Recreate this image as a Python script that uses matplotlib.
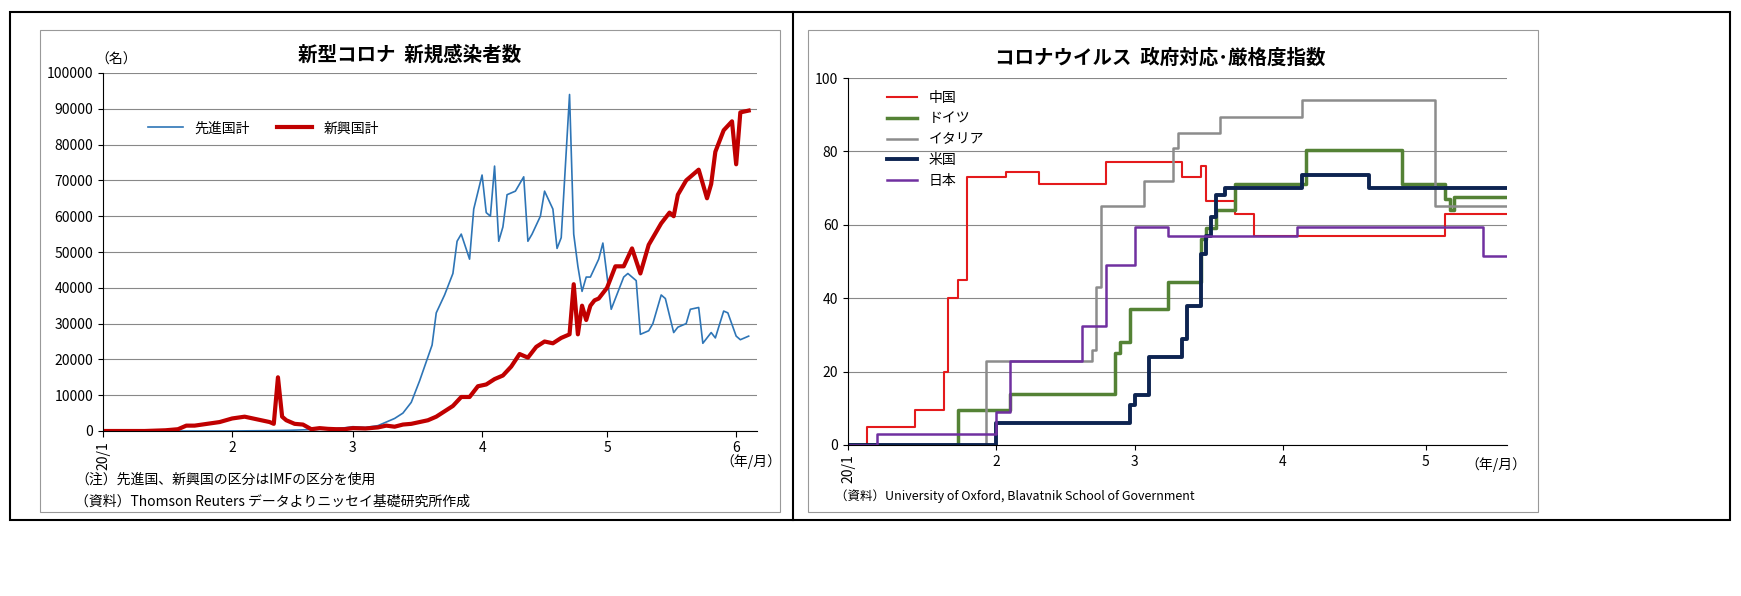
import matplotlib
matplotlib.use("Agg")
import matplotlib.pyplot as plt
from matplotlib.patches import Rectangle
from matplotlib.lines import Line2D

plt.rcParams["font.family"] = "Noto Sans CJK JP"

# ---------- Left chart data (day index from 2020-01-01) ----------
adv_days = [0, 10, 20, 30, 40, 45, 50, 55, 58, 60, 63, 66, 68, 70, 72, 74, 76, 79, 80, 82, 84, 85, 86, 88, 89,
            91, 92, 93, 94, 95, 96, 97, 99, 101, 102, 103, 105, 106, 108, 109, 110, 112, 113, 114, 115, 116, 117,
            119, 120, 122, 123, 125, 126, 128, 129, 131, 132, 134, 135, 137, 138, 140, 141, 143, 144, 146, 147,
            149, 150, 152, 153, 155]
adv_vals = [0, 0, 0, 0, 100, 200, 400, 600, 900, 1200, 1000, 1500, 2500, 3500, 5000, 8000, 14000, 24000, 33000,
            38000, 44000, 53000, 55000, 48000, 62000,
            71500, 61000, 60000, 74000, 53000, 57000, 66000, 67000, 71000, 53000, 55000, 60000, 67000, 62000, 51000,
            54000, 94000, 55000, 46000, 39000, 43000, 43000, 48000, 52500, 34000, 37000, 43000, 44000, 42000, 27000,
            28000, 30000, 38000, 37000, 27500, 29000, 30000, 34000, 34500, 24500, 27500, 26000, 33500, 33000, 26500,
            25500, 26500]

emg_days = [0, 5, 10, 15, 18, 20, 22, 25, 28, 31, 34, 36, 38, 40, 41, 42, 43, 44, 46, 48, 50, 52, 54, 56, 58, 60,
            63, 66, 68, 70, 72, 74, 76, 78, 80, 82, 84, 86, 88, 90, 92, 94, 96, 98, 100, 102, 104, 106, 108, 110,
            112, 113, 114, 115, 116, 117, 118, 119, 121, 123, 125, 127, 129, 131, 134, 136, 137, 138, 140, 143,
            145, 146, 147, 149, 151, 152, 153, 155]
emg_vals = [0, 0, 0, 200, 500, 1500, 1500, 2000, 2500, 3500, 4000, 3500, 3000, 2500, 2000, 15000, 4000, 3000, 2000,
            1800, 500, 800, 600, 500, 500, 800, 700, 1000, 1500, 1200, 1800, 2000, 2500, 3000, 4000, 5500, 7000,
            9500, 9500, 12500, 13000, 14500, 15500, 18000, 21500, 20500, 23500, 25000, 24500, 26000, 27000, 41000,
            27000, 35000, 31000, 35000, 36500, 37000, 40000, 46000, 46000, 51000, 44000, 52000, 58000, 61000, 60000,
            66000, 70000, 73000, 65000, 69000, 78000, 84000, 86500, 74500, 89000, 89500]

left_ticks = [0, 31, 60, 91, 121, 152]
left_ticklabels = ["20/1", "2", "3", "4", "5", "6"]

# ---------- Right chart data (step series, day index) ----------
cn_d = [0, 4, 14, 20, 21, 23, 25, 33, 40, 54, 70, 74, 75, 81, 85, 125, 138]
cn_v = [0, 5, 9.5, 20, 40, 45, 73, 74.5, 71, 77, 73, 76, 66.5, 63, 57, 63, 63]
de_d = [0, 23, 34, 56, 57, 58, 59, 67, 74, 75, 77, 79, 81, 96, 116, 124, 125, 126, 127, 138]
de_v = [0, 9.5, 14, 25, 28, 28, 37, 44.5, 56, 59, 64, 64, 71, 80.5, 71, 71, 67, 64, 67.5, 67.5]
it_d = [0, 29, 51, 52, 53, 62, 68, 69, 70, 78, 95, 123, 138]
it_v = [0, 23, 26, 43, 65, 72, 81, 85, 85, 89.5, 94, 65, 65]
us_d = [0, 31, 59, 60, 61, 63, 70, 71, 73, 74, 75, 76, 77, 79, 95, 109, 138]
us_v = [0, 6, 11, 13.5, 13.5, 24, 29, 38, 38, 52, 57, 62, 68, 70, 73.5, 70, 70]
jp_d = [0, 6, 31, 32, 34, 49, 51, 54, 60, 67, 94, 133, 138]
jp_v = [0, 3, 9, 9, 23, 32.5, 32.5, 49, 59.5, 57, 59.5, 51.5, 51.5]
right_ticks = [0, 31, 60, 91, 121]
right_ticklabels = ["20/1", "2", "3", "4", "5"]

fig = plt.figure(figsize=(17.41, 5.96), dpi=100)

def box(x0, y0, x1, y1, color, lw):
    fig.add_artist(Rectangle((x0/1741, 1-y1/596), (x1-x0)/1741, (y1-y0)/596,
                             transform=fig.transFigure, fill=False, edgecolor=color, lw=lw))

box(10, 12, 1730, 520, "black", 1.5)
fig.add_artist(Line2D([793/1741]*2, [1-12/596, 1-520/596], transform=fig.transFigure, color="black", lw=1.5))
box(40, 30, 780, 512, "#999999", 0.8)
box(808, 30, 1538, 512, "#999999", 0.8)

# Left axes
ax1 = fig.add_axes([103/1741, 1-431/596, 654/1741, 358/596])
ax1.plot(adv_days, adv_vals, color="#2E75B6", lw=1.2, label="先進国計")
ax1.plot(emg_days, emg_vals, color="#C00000", lw=3, label="新興国計")
ax1.set_xlim(0, 157)
ax1.set_ylim(0, 100000)
ax1.set_yticks(range(0, 100001, 10000))
ax1.set_yticklabels([str(v) for v in range(0, 100001, 10000)], fontsize=10)
ax1.set_xticks(left_ticks)
ax1.set_xticklabels(left_ticklabels, fontsize=10)
ax1.tick_params(axis="x", length=4, direction="out")
plt.setp(ax1.get_xticklabels()[0], rotation=90)
ax1.grid(axis="y", color="#888888", lw=0.8)
ax1.set_axisbelow(True)
for s in ["top", "right"]:
    ax1.spines[s].set_visible(False)
ax1.legend(loc="upper left", bbox_to_anchor=(0.05, 0.9), ncol=2, frameon=False, fontsize=10, handlelength=2.5, columnspacing=2)
fig.text(410/1741, 1-55/596, "新型コロナ  新規感染者数", ha="center", va="center", fontsize=14, fontweight="bold")
fig.text(95/1741, 1-60/596, "（名）", ha="left", va="center", fontsize=10)
fig.text(720/1741, 1-462/596, "（年/月）", ha="left", va="center", fontsize=10)
fig.text(75/1741, 1-480/596, "（注）先進国、新興国の区分はIMFの区分を使用", fontsize=10, va="center")
fig.text(75/1741, 1-502/596, "（資料）Thomson Reuters データよりニッセイ基礎研究所作成", fontsize=10, va="center")

# Right axes
ax2 = fig.add_axes([848/1741, 1-445/596, 659/1741, 367/596])
ax2.step(cn_d, cn_v, where="post", color="#E41A1C", lw=1.5, label="中国")
ax2.step(de_d, de_v, where="post", color="#548235", lw=2.5, label="ドイツ")
ax2.step(it_d, it_v, where="post", color="#8C8C8C", lw=1.8, label="イタリア")
ax2.step(us_d, us_v, where="post", color="#0D2451", lw=2.8, label="米国")
ax2.step(jp_d, jp_v, where="post", color="#7030A0", lw=1.8, label="日本")
ax2.set_xlim(0, 138)
ax2.set_ylim(0, 100)
ax2.set_yticks(range(0, 101, 20))
ax2.set_yticklabels([str(v) for v in range(0, 101, 20)], fontsize=10)
ax2.set_xticks(right_ticks)
ax2.set_xticklabels(right_ticklabels, fontsize=10)
plt.setp(ax2.get_xticklabels()[0], rotation=90)
ax2.grid(axis="y", color="#888888", lw=0.8)
ax2.set_axisbelow(True)
for s in ["top", "right"]:
    ax2.spines[s].set_visible(False)
ax2.legend(loc="upper left", bbox_to_anchor=(0.04, 1.0), frameon=False, fontsize=10, handlelength=2.2, labelspacing=0.5)
fig.text(1160/1741, 1-58/596, "コロナウイルス  政府対応･厳格度指数", ha="center", va="center", fontsize=14, fontweight="bold")
fig.text(1465/1741, 1-465/596, "（年/月）", ha="left", va="center", fontsize=10)
fig.text(835/1741, 1-496/596, "（資料）University of Oxford, Blavatnik School of Government", fontsize=9, va="center")

fig.savefig("out.png", dpi=100)
